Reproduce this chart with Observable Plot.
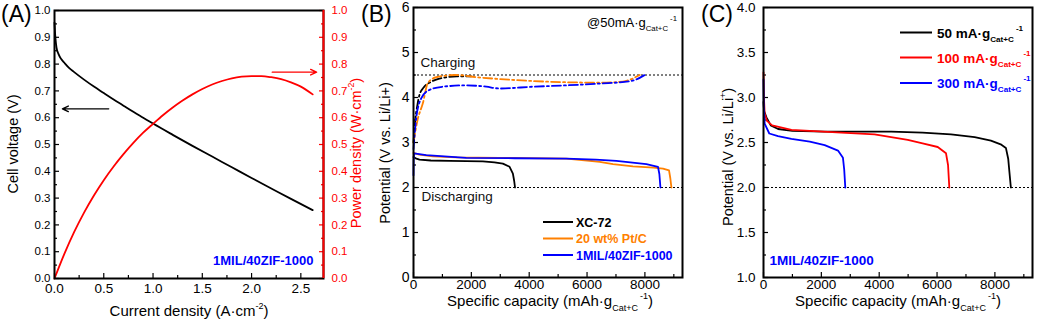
<!DOCTYPE html>
<html><head><meta charset="utf-8">
<script src="https://cdn.jsdelivr.net/npm/d3@7"></script>
<script src="https://cdn.jsdelivr.net/npm/@observablehq/plot@0.6"></script>
<style>
body{margin:0;background:#fff;}
#wrap{position:relative;width:1039px;height:331px;overflow:hidden;background:#fff;}
#wrap svg{position:absolute;top:0;}
</style></head>
<body><div id="wrap"></div>
<script>
const FONT = "'Liberation Sans', Arial, Helvetica, sans-serif";
const RED = "#ff0000", BLUE = "#0000ff", ORANGE = "#ff8000", BLACK = "#000000";

// ---------- Panel A data ----------
const aCurrent = [0, 0.005, 0.01, 0.02, 0.04, 0.07, 0.1, 0.15, 0.2, 0.3, 0.4, 0.5, 0.6, 0.7, 0.8, 0.9, 1.0, 1.2, 1.4, 1.6, 1.8, 2.0, 2.2, 2.4, 2.62];
const aVoltage = [0.955, 0.92, 0.895, 0.862, 0.838, 0.818, 0.805, 0.785, 0.77, 0.742, 0.716, 0.692, 0.668, 0.645, 0.622, 0.60, 0.578, 0.536, 0.495, 0.455, 0.415, 0.375, 0.336, 0.297, 0.255];
const aPowerCurrent = [0, 0.1, 0.2, 0.3, 0.4, 0.5, 0.6, 0.7, 0.8, 0.9, 1.0, 1.1, 1.2, 1.3, 1.4, 1.5, 1.6, 1.7, 1.8, 1.9, 2.0, 2.1, 2.2, 2.3, 2.4, 2.5, 2.62];
const aPower = [0, 0.092, 0.174, 0.246, 0.31, 0.367, 0.418, 0.464, 0.506, 0.544, 0.577, 0.609, 0.638, 0.664, 0.687, 0.707, 0.724, 0.737, 0.747, 0.753, 0.755, 0.755, 0.751, 0.744, 0.732, 0.716, 0.687];
const aXTicks = [0, 0.5, 1.0, 1.5, 2.0, 2.5];
const aXMinor = [0.25, 0.75, 1.25, 1.75, 2.25];
const aYTicks = [0, 0.1, 0.2, 0.3, 0.4, 0.5, 0.6, 0.7, 0.8, 0.9, 1.0];
const aYMinor = [0.05, 0.15, 0.25, 0.35, 0.45, 0.55, 0.65, 0.75, 0.85, 0.95];
const aArrows = [
  {x1: 0.55, y1: 0.633, x2: 0.08, y2: 0.633, color: BLACK},
  {x1: 2.21, y1: 0.77, x2: 2.66, y2: 0.77, color: RED}
];

// ---------- Panel B data ----------
const bNames = ["XC-72", "20 wt% Pt/C", "1MIL/40ZIF-1000"];
const bColors = [BLACK, ORANGE, BLUE];
const bDisXC72 = [[0,2.68],[100,2.64],[207,2.62],[600,2.60],[1245,2.59],[2398,2.58],[2800,2.56],[3090,2.53],[3322,2.46],[3436,2.31],[3480,2.15],[3510,2.0]];
const bDisPtC = [[0,2.77],[200,2.73],[668,2.69],[1500,2.67],[2976,2.66],[5282,2.64],[6000,2.60],[6436,2.57],[6897,2.52],[7588,2.47],[8300,2.44],[8626,2.42],[8834,2.38],[8880,2.2],[8917,2.0]];
const bDisZIF = [[0,2.27],[5,2.6],[20,2.76],[439,2.72],[1823,2.66],[3500,2.65],[5282,2.64],[6300,2.62],[7014,2.59],[8052,2.52],[8453,2.46],[8500,2.3],[8537,2.0]];
const bChgXC72 = [[0,3.0],[60,3.5],[140,3.85],[207,4.06],[350,4.22],[612,4.35],[900,4.42],[1131,4.45],[1500,4.47],[1996,4.47]];
const bChgPtC = [[0,3.0],[140,3.5],[323,3.87],[495,4.32],[785,4.45],[1477,4.50],[2200,4.45],[2976,4.41],[4706,4.35],[6436,4.33],[7000,4.34],[7360,4.37],[7820,4.5]];
const bChgZIF = [[0,2.85],[93,3.54],[266,3.98],[554,4.17],[1014,4.24],[1823,4.27],[2515,4.24],[2976,4.2],[4128,4.24],[5282,4.27],[6436,4.31],[7474,4.36],[7700,4.4],[7990,4.5]];
const bXTicks = [0, 2000, 4000, 6000, 8000];
const bXMinor = [1000, 3000, 5000, 7000, 9000];
const bYTicks = [0, 1, 2, 3, 4, 5, 6];
const bYMinor = [0.5, 1.5, 2.5, 3.5, 4.5, 5.5];
const bRefLines = [4.5, 2.0];
const bNotes = [{x: 240, y: 4.77, t: "Charging"}, {x: 275, y: 1.8, t: "Discharging"}];

// ---------- Panel C data ----------
const cNames = ["50 mA·g", "100 mA·g", "300 mA·g"];
const cColors = [BLACK, RED, BLUE];
const c50 = [[0,2.95],[20,2.85],[103,2.78],[250,2.69],[505,2.65],[1000,2.63],[2115,2.62],[3200,2.62],[4414,2.62],[5500,2.61],[6483,2.59],[7300,2.56],[7862,2.52],[8200,2.48],[8380,2.44],[8460,2.32],[8494,2.2],[8552,2.0]];
const c100 = [[0,3.28],[15,3.0],[40,2.82],[120,2.74],[300,2.69],[965,2.64],[2690,2.61],[3838,2.59],[4988,2.53],[5500,2.49],[6024,2.45],[6310,2.38],[6380,2.25],[6424,2.0]];
const c300 = [[0,3.2],[10,2.9],[40,2.71],[200,2.6],[500,2.57],[965,2.54],[1600,2.51],[2115,2.47],[2575,2.41],[2747,2.33],[2790,2.2],[2828,2.0]];
const cXTicks = [0, 2000, 4000, 6000, 8000];
const cXMinor = [1000, 3000, 5000, 7000, 9000];
const cYTicks = [1.0, 1.5, 2.0, 2.5, 3.0, 3.5, 4.0];
const cYMinor = [1.25, 1.75, 2.25, 2.75, 3.25, 3.75];
const cRefLines = [2.0];

// ---------- helpers ----------
const toRows = (pts, name) => pts.map(([x, y]) => ({x, y, name}));
const wrap = document.getElementById("wrap");
function place(svg, left) { svg.style.left = left + "px"; wrap.appendChild(svg); return svg; }
function rich(svg, x, y, parts, {anchor = "middle", rotate = 0, size = 15, weight = "normal", fill = BLACK} = {}) {
  const t = d3.select(svg).append("text")
    .attr("transform", `translate(${x},${y}) rotate(${rotate})`)
    .attr("text-anchor", anchor).attr("font-size", size).attr("font-weight", weight)
    .attr("fill", fill).attr("font-family", FONT);
  let shift = 0;
  for (const p of parts) {
    const s = p.sub ? size * 0.3 : p.sup ? -size * 0.5 : 0;
    const fs = (p.sub || p.sup) ? size * 0.6 : size;
    t.append("tspan").attr("dy", s - shift).attr("font-size", fs).attr("dx", p.dx || 0).text(p.t);
    shift = s;
  }
  return t;
}
function panelLabel(svg, label) {
  rich(svg, 1, 22, [{t: label}], {anchor: "start", size: 23});
}
const baseStyle = {fontFamily: FONT, background: "transparent", overflow: "visible", color: BLACK};
function axes({xMajor, xMinor, yMajor, yMinor, xFmt, yFmt, xFont, yFont, xPad, yPad}) {
  return [
    Plot.axisX(xMajor, {tickSize: -5, tickPadding: 5 + xPad, tickFormat: xFmt, fontSize: xFont, label: null, strokeWidth: 1.2}),
    Plot.axisX(xMinor, {tickSize: -3, tickFormat: () => "", label: null, strokeWidth: 1.2}),
    Plot.axisY(yMajor, {tickSize: -5, tickPadding: 5 + yPad, tickFormat: yFmt, fontSize: yFont, label: null, strokeWidth: 1.2}),
    Plot.axisY(yMinor, {tickSize: -3, tickFormat: () => "", label: null, strokeWidth: 1.2})
  ];
}

// ---------- Panel A ----------
const aXMax = 2.73;
const voltRows = aCurrent.map((x, i) => ({x, y: aVoltage[i]}));
const powRows = aPowerCurrent.map((x, i) => ({x, y: aPower[i]}));
const svgA = Plot.plot({
  width: 360, height: 331, marginLeft: 54, marginRight: 37, marginTop: 10, marginBottom: 53,
  style: baseStyle,
  x: {domain: [0, aXMax]}, y: {domain: [0, 1]},
  marks: [
    ...axes({xMajor: aXTicks, xMinor: aXMinor, yMajor: aYTicks, yMinor: aYMinor,
      xFmt: d3.format(".1f"), yFmt: d3.format(".1f"), xFont: 13.5, yFont: 11.5, xPad: 5, yPad: 4}),
    Plot.axisY(aYTicks, {anchor: "right", color: RED, tickSize: -5, tickPadding: 13, tickFormat: d3.format(".1f"), fontSize: 11.5, label: null, strokeWidth: 1.2}),
    Plot.axisY(aYMinor, {anchor: "right", color: RED, tickSize: -3, tickFormat: () => "", label: null, strokeWidth: 1.2}),
    Plot.line(voltRows, {x: "x", y: "y", stroke: BLACK, strokeWidth: 1.8, curve: "monotone-x"}),
    Plot.line(powRows, {x: "x", y: "y", stroke: RED, strokeWidth: 1.8, curve: "monotone-x"}),
    Plot.arrow(aArrows, {x1: "x1", y1: "y1", x2: "x2", y2: "y2", stroke: "color", strokeWidth: 1.4, headLength: 7, headAngle: 50}),
    Plot.text(["1MIL/40ZIF-1000"], {frameAnchor: "bottom-right", dx: -10, dy: -14, fill: BLUE, fontWeight: "bold", fontSize: 13, textAnchor: "end"}),
    Plot.frame({stroke: BLACK, strokeWidth: 2}),
    Plot.ruleX([aXMax], {stroke: RED, strokeWidth: 2})
  ]
});
place(svgA, 0);
panelLabel(svgA, "(A)");
rich(svgA, 189, 316, [{t: "Current density (A·cm"}, {t: "-2", sup: true}, {t: ")"}], {size: 15});
rich(svgA, 18, 144, [{t: "Cell voltage (V)"}], {size: 14.5, rotate: -90});
rich(svgA, 361, 153, [{t: "Power density (W·cm"}, {t: "-2", sup: true}, {t: ")"}], {size: 14.5, rotate: -90, fill: RED});

// ---------- Panel B ----------
const bLines = [bDisXC72, bDisPtC, bDisZIF];
const bCharge = [bChgXC72, bChgPtC, bChgZIF];
const bXMax = 9300;
const svgB = Plot.plot({
  width: 340, height: 331, marginLeft: 53, marginRight: 18, marginTop: 7, marginBottom: 54,
  style: baseStyle,
  x: {domain: [0, bXMax]}, y: {domain: [0, 6]},
  marks: [
    ...axes({xMajor: bXTicks, xMinor: bXMinor, yMajor: bYTicks, yMinor: bYMinor,
      xFmt: d3.format("d"), yFmt: d3.format("d"), xFont: 13.5, yFont: 14, xPad: 2, yPad: 4}),
    Plot.ruleY(bRefLines, {stroke: BLACK, strokeWidth: 1, strokeDasharray: "2,2"}),
    ...bCharge.map((pts, i) => Plot.line(toRows(pts, bNames[i]), {x: "x", y: "y", stroke: bColors[i], strokeWidth: 1.8, strokeDasharray: "9,3,2,3", curve: "monotone-x"})),
    ...bLines.map((pts, i) => Plot.line(toRows(pts, bNames[i]), {x: "x", y: "y", stroke: bColors[i], strokeWidth: 1.8, curve: "linear"})),
    Plot.text(bNotes, {x: "x", y: "y", text: "t", textAnchor: "start", fontSize: 13.5, fill: "#111"}),
    Plot.frame({stroke: BLACK, strokeWidth: 2})
  ]
});
place(svgB, 360);
panelLabel(svgB, "(B)");
rich(svgB, 190, 306, [{t: "Specific capacity (mAh·g"}, {t: "Cat+C", sub: true}, {t: "-1", sup: true, dx: 2}, {t: ")"}], {size: 15});
rich(svgB, 30, 153, [{t: "Potential (V vs. Li/Li+)"}], {size: 14.5, rotate: -90});
rich(svgB, 227, 27, [{t: "@50mA·g"}, {t: "Cat+C", sub: true}, {t: "-1", sup: true, dx: 2}], {size: 13, anchor: "start"});
{
  const g = d3.select(svgB);
  const ys = [222, 238.5, 255];
  bNames.forEach((n, i) => {
    g.append("line").attr("x1", 183).attr("x2", 213).attr("y1", ys[i]).attr("y2", ys[i]).attr("stroke", bColors[i]).attr("stroke-width", 2);
    rich(svgB, 216, ys[i] + 4.5, [{t: n}], {anchor: "start", size: 12.5, weight: "bold", fill: bColors[i]});
  });
}

// ---------- Panel C ----------
const cLines = [c50, c100, c300];
const cXMax = 9300;
const svgC = Plot.plot({
  width: 339, height: 331, marginLeft: 63, marginRight: 7, marginTop: 7, marginBottom: 54,
  style: baseStyle,
  x: {domain: [0, cXMax]}, y: {domain: [1, 4]},
  marks: [
    ...axes({xMajor: cXTicks, xMinor: cXMinor, yMajor: cYTicks, yMinor: cYMinor,
      xFmt: d3.format("d"), yFmt: d3.format(".1f"), xFont: 13.5, yFont: 13.5, xPad: 2, yPad: 8}),
    Plot.ruleY(cRefLines, {stroke: BLACK, strokeWidth: 1, strokeDasharray: "2,2"}),
    ...cLines.map((pts, i) => Plot.line(toRows(pts, cNames[i]), {x: "x", y: "y", stroke: cColors[i], strokeWidth: 1.8, curve: "linear"})),
    Plot.text(["1MIL/40ZIF-1000"], {frameAnchor: "bottom-left", dx: 6, dy: -13, fill: BLUE, fontWeight: "bold", fontSize: 13.5, textAnchor: "start"}),
    Plot.frame({stroke: BLACK, strokeWidth: 2})
  ]
});
place(svgC, 700);
panelLabel(svgC, "(C)");
rich(svgC, 198, 306, [{t: "Specific capacity (mAh·g"}, {t: "Cat+C", sub: true}, {t: "-1", sup: true, dx: 2}, {t: ")"}], {size: 15});
rich(svgC, 33, 157, [{t: "Potential (V vs. Li/Li"}, {t: "+", sup: true}, {t: ")"}], {size: 14.5, rotate: -90});
{
  const g = d3.select(svgC);
  const ys = [32.5, 57.5, 83];
  cNames.forEach((n, i) => {
    g.append("line").attr("x1", 200).attr("x2", 232).attr("y1", ys[i]).attr("y2", ys[i]).attr("stroke", cColors[i]).attr("stroke-width", 2);
    rich(svgC, 237, ys[i] + 5, [{t: n}, {t: "Cat+C", sub: true}, {t: "-1", sup: true, dx: 2}], {size: 13.5, anchor: "start", weight: "bold", fill: cColors[i]});
  });
}
</script></body></html>
